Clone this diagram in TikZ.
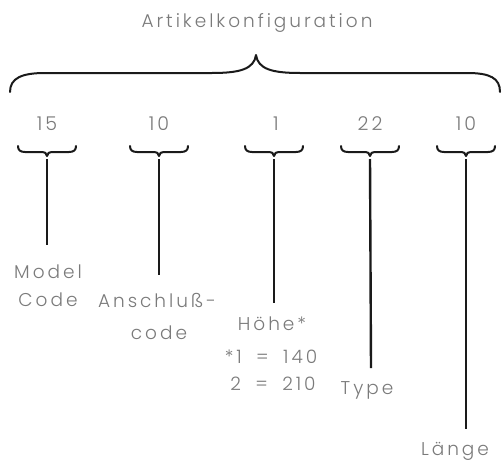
\documentclass[tikz,border=0pt]{standalone}
\usepackage{fontspec}
\setmainfont{Poppins}[UprightFont=* Light,LetterSpace=16,WordSpace=1.8,Ligatures={NoCommon}]
\definecolor{txt}{HTML}{7A7A7A}
\definecolor{ink}{HTML}{1A1A1A}
\begin{document}
\begin{tikzpicture}[x=1pt,y=-1pt,
  lbl/.style={text=txt,font=\fontsize{18.5}{20}\selectfont,inner sep=0pt,align=center},
  num/.style={text=txt,font=\fontsize{19}{20}\selectfont,inner sep=0pt},
  bracepath/.style={draw=ink,line width=2pt,line cap=round,line join=round},
  stem/.style={draw=ink,line width=2.4pt}]
\useasboundingbox (0,0) rectangle (502,463);
% title
\node[lbl] (title) at (257,23) {Artikelkonfiguration};
% big brace
\draw[bracepath] (10,92) .. controls (10,78) and (22,73) .. (45,73) -- (212,73)
  .. controls (240,73) and (254,69) .. (256,55)
  .. controls (258,69) and (272,73) .. (300,73) -- (467,73)
  .. controls (490,73) and (500,78) .. (500,92);
% numbers
\node[num] (n1) at (47,124) {15};
\node[num] (n2) at (159,124) {10};
\node[num] (n3) at (276,124) {1};
\node[num] (n4) at (370,124) {22};
\node[num] (n5) at (466,124) {10};
% small braces
\foreach \cx/\nm in {47/b1,159/b2,274/b3,370/b4,466/b5}{
  \draw[bracepath] (\cx-29,146) .. controls (\cx-29,150) and (\cx-27,152) .. (\cx-22,152)
    -- (\cx-7,152) .. controls (\cx-2,152) and (\cx,153) .. (\cx,156)
    .. controls (\cx,153) and (\cx+2,152) .. (\cx+7,152) -- (\cx+22,152)
    .. controls (\cx+27,152) and (\cx+29,150) .. (\cx+29,146);
  \coordinate (\nm) at (\cx,159);
}
% stem ends
\coordinate (e1) at (47,245);
\coordinate (e2) at (159,275);
\coordinate (e3) at (274,303);
\coordinate (e4) at (371,368);
\coordinate (e5) at (466,429);
\draw[stem] (b1) -- (e1);
\draw[stem] (b2) -- (e2);
\draw[stem] (b3) -- (e3);
\draw[stem] (b4) -- (e4);
\draw[stem] (b5) -- (e5);
% labels
\node[lbl] (l1a) at (48,272) {Model};
\node[lbl] (l1b) at (48,300) {Code};
\node[lbl] (l2a) at (157,300) {Anschluß-};
\node[lbl] (l2b) at (159,333) {code};
\node[lbl] (l3a) at (272,324) {Höhe*};
\node[lbl] (l3b) at (271,357) {*1 = 140};
\node[lbl] (l3c) at (273,384) {2 = 210};
\node[lbl] (l4) at (367,390) {Type};
\node[lbl] (l5) at (455,451) {Länge};
\end{tikzpicture}
\end{document}
